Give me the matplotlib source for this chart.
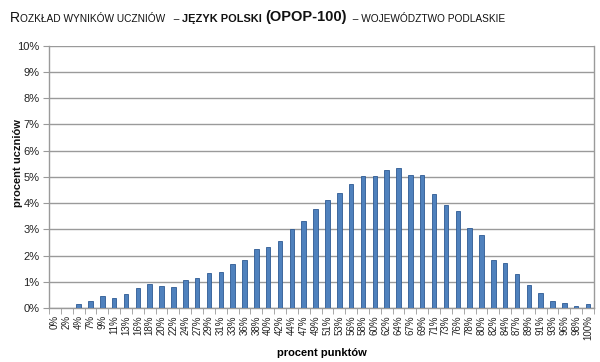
import matplotlib
matplotlib.use("Agg")
import matplotlib.pyplot as plt
import numpy as np
from matplotlib.ticker import FixedLocator, PercentFormatter

plt.rcParams['font.family'] = ['Liberation Sans', 'DejaVu Sans']

categories = ["0%", "2%", "4%", "7%", "9%", "11%", "13%", "16%", "18%", "20%",
              "22%", "24%", "27%", "29%", "31%", "33%", "36%", "38%", "40%", "42%",
              "44%", "47%", "49%", "51%", "53%", "56%", "58%", "60%", "62%", "64%",
              "67%", "69%", "71%", "73%", "76%", "78%", "80%", "82%", "84%", "87%",
              "89%", "91%", "93%", "96%", "98%", "100%"]
values = [0.00, 0.02, 0.14, 0.27, 0.46, 0.38, 0.55, 0.78, 0.90, 0.84,
          0.80, 1.08, 1.13, 1.35, 1.37, 1.68, 1.83, 2.26, 2.31, 2.55,
          3.00, 3.32, 3.77, 4.10, 4.37, 4.73, 5.03, 5.02, 5.27, 5.35,
          5.06, 5.08, 4.36, 3.94, 3.70, 3.05, 2.80, 1.84, 1.73, 1.28,
          0.86, 0.58, 0.28, 0.20, 0.09, 0.15]

fig = plt.figure(figsize=(6.0, 3.62), dpi=100)
ax = fig.add_axes([0.0817, 0.149, 0.9083, 0.725])

x = np.arange(len(categories))
ax.bar(x, values, width=0.38, color='#4F81BD', edgecolor='#2E5A93', linewidth=0.6, zorder=3)

ax.set_xlim(-0.5, len(categories) - 0.5)
ax.set_ylim(0, 10)
ax.yaxis.set_major_locator(FixedLocator(np.arange(0, 11, 1)))
ax.yaxis.set_major_formatter(PercentFormatter(decimals=0))
ax.grid(axis='y', color='#9A9A9A', linewidth=1.0, zorder=0)
ax.set_axisbelow(True)

ax.set_xticks(x)
ax.set_xticklabels(categories, rotation=90, fontsize=7, color='#222222')
ax.tick_params(axis='x', which='major', length=0, pad=5)
ax.set_xticks(np.arange(-0.5, len(categories), 1), minor=True)
ax.tick_params(axis='x', which='minor', length=4, color='#9A9A9A', direction='out')
ax.tick_params(axis='y', length=4, color='#9A9A9A', labelsize=8, labelcolor='#222222', pad=3)

for s in ['left', 'bottom', 'right']:
    ax.spines[s].set_color('#9A9A9A')
    ax.spines[s].set_linewidth(1.0)
ax.spines['top'].set_visible(False)

fig.text(18 / 600, 1 - 163 / 362, 'procent uczniów', fontsize=8, fontweight='bold',
         rotation=90, ha='center', va='center', color='#111111')
ax.set_xlabel('procent punktów', fontsize=8, fontweight='bold', labelpad=6)

# Title composed of pieces
pieces = [
    ("R", 10, 'normal'),
    ("OZKŁAD WYNIKÓW UCZNIÓW   – ", 7.3, 'normal'),
    ("JĘZYK POLSKI ", 7.9, 'bold'),
    ("(OPOP-100)", 10.5, 'bold'),
    ("  – WOJEWÓDZTWO PODLASKIE", 7.3, 'normal'),
]
fig.canvas.draw()
renderer = fig.canvas.get_renderer()
xpos = 10 / 600
ypos = 1 - 21.5 / 362
for txt, size, weight in pieces:
    t = fig.text(xpos, ypos, txt, fontsize=size, fontweight=weight, ha='left', va='baseline', color='#111111')
    bb = t.get_window_extent(renderer=renderer)
    xpos += bb.width / fig.bbox.width

fig.savefig('out.png', dpi=100)
